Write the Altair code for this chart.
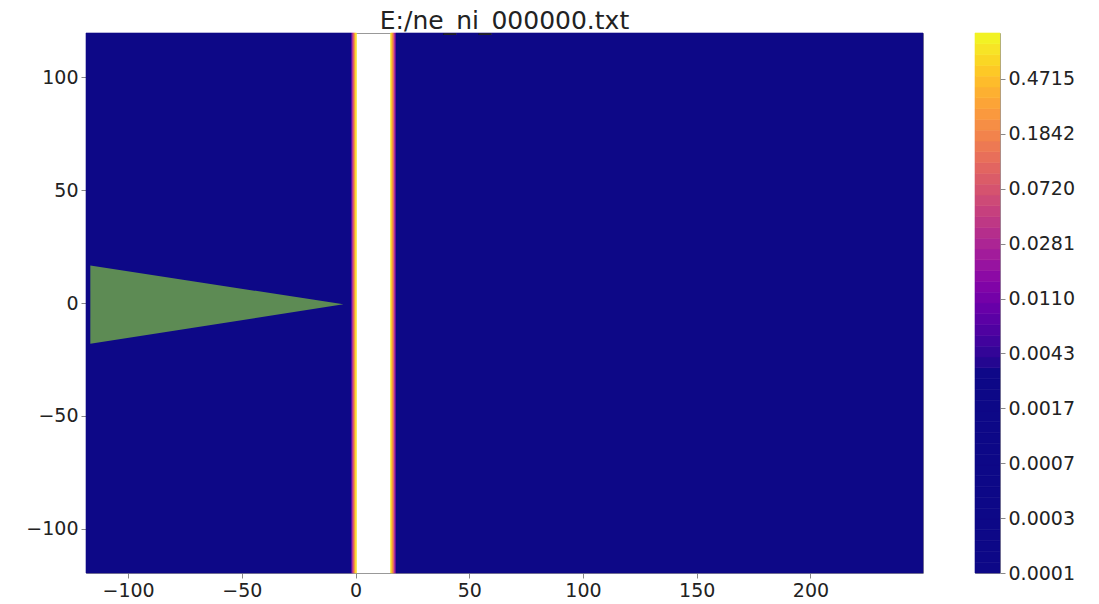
import altair as alt
import pandas as pd
import numpy as np

TITLE = "E:/ne_ni_000000.txt"
X_DOMAIN = [-118.5, 249.5]
Y_DOMAIN = [-119.5, 119.5]
X_TICKS = [-100, -50, 0, 50, 100, 150, 200]
Y_TICKS = [-100, -50, 0, 50, 100]

# density strips along x (field uniform in y); slab interior left white
STRIP_X0 = [-118.5, -1.8, -1.25, -0.7, -0.15, 15.4, 16.0, 16.6, 17.2, 17.8]
STRIP_X1 = [-1.8, -1.25, -0.7, -0.15, 0.4, 16.0, 16.6, 17.2, 17.8, 249.5]
STRIP_VAL = [0.0001, 0.008, 0.05, 0.2, 0.7, 0.8, 0.3, 0.08, 0.02, 0.0001]

# green triangle (target)
TRI_X = [-116.6, -5.3]
TRI_TOP = [16.6, -0.6]
TRI_BOT = [-18.0, -0.6]
TRI_COLOR = "#5d8b54"

# colorbar
CBAR_MIN = 0.0001
CBAR_MAX = 1.036
CBAR_NBANDS = 50
CBAR_TICKS = [0.0001, 0.000256, 0.000655, 0.001677, 0.004292, 0.010987,
              0.028123, 0.071975, 0.184216, 0.4715]
COLOR_DOMAIN = [0.003, 1.036]

edges = 10 ** np.linspace(np.log10(CBAR_MIN), np.log10(CBAR_MAX), CBAR_NBANDS + 1)
bands = pd.DataFrame({"lo": edges[:-1], "hi": edges[1:],
                      "mid": np.sqrt(edges[:-1] * edges[1:])})

field = pd.DataFrame({"x0": STRIP_X0, "x1": STRIP_X1, "val": STRIP_VAL,
                      "y0": [Y_DOMAIN[0]] * len(STRIP_X0),
                      "y1": [Y_DOMAIN[1]] * len(STRIP_X0)})
tri = pd.DataFrame({"tx": TRI_X, "ttop": TRI_TOP, "tbot": TRI_BOT})

color_scale = alt.Scale(type="log", domain=COLOR_DOMAIN, scheme="plasma", clamp=True)
xs = alt.Scale(domain=X_DOMAIN, nice=False, zero=False)
ys = alt.Scale(domain=Y_DOMAIN, nice=False, zero=False)

field_layer = alt.Chart(field).mark_rect(strokeWidth=0.6).encode(
    x=alt.X("x0:Q", scale=xs, axis=alt.Axis(values=X_TICKS, title=None)),
    x2="x1:Q",
    y=alt.Y("y0:Q", scale=ys, axis=alt.Axis(values=Y_TICKS, title=None)),
    y2="y1:Q",
    color=alt.Color("val:Q", scale=color_scale, legend=None),
    stroke=alt.Stroke("val:Q", scale=color_scale, legend=None),
)
tri_layer = alt.Chart(tri).mark_area(color=TRI_COLOR, opacity=1).encode(
    x=alt.X("tx:Q", scale=xs),
    y=alt.Y("ttop:Q", scale=ys),
    y2="tbot:Q",
)
main = alt.layer(field_layer, tri_layer).properties(
    width=837, height=540,
    title=alt.TitleParams(TITLE, offset=-1),
)

cbar = alt.Chart(bands).mark_rect(strokeWidth=0.6).encode(
    x=alt.value(0), x2=alt.value(25),
    y=alt.Y("lo:Q", scale=alt.Scale(type="log", domain=[CBAR_MIN, CBAR_MAX], nice=False),
            axis=alt.Axis(orient="right", values=CBAR_TICKS, format=".4f", title=None)),
    y2="hi:Q",
    color=alt.Color("mid:Q", scale=color_scale, legend=None),
    stroke=alt.Stroke("mid:Q", scale=color_scale, legend=None),
).properties(width=25, height=540)

chart = alt.hconcat(main, cbar, spacing=52, bounds="flush").resolve_scale(
    x="independent", y="independent"
).properties(
    padding={"left": 17, "top": 0, "right": 5, "bottom": 5}
).configure_axis(
    labelFont="DejaVu Sans", labelFontSize=19, labelColor="#222222",
    tickColor="#888888", tickSize=5, domain=False, grid=False, labelPadding=3,
).configure_view(
    stroke="#999999", strokeWidth=1,
).configure_title(
    font="DejaVu Sans", fontSize=25, color="#222222", fontWeight="normal", anchor="middle",
)

chart.save("out.html", embed_options={"renderer": "svg", "actions": False})
